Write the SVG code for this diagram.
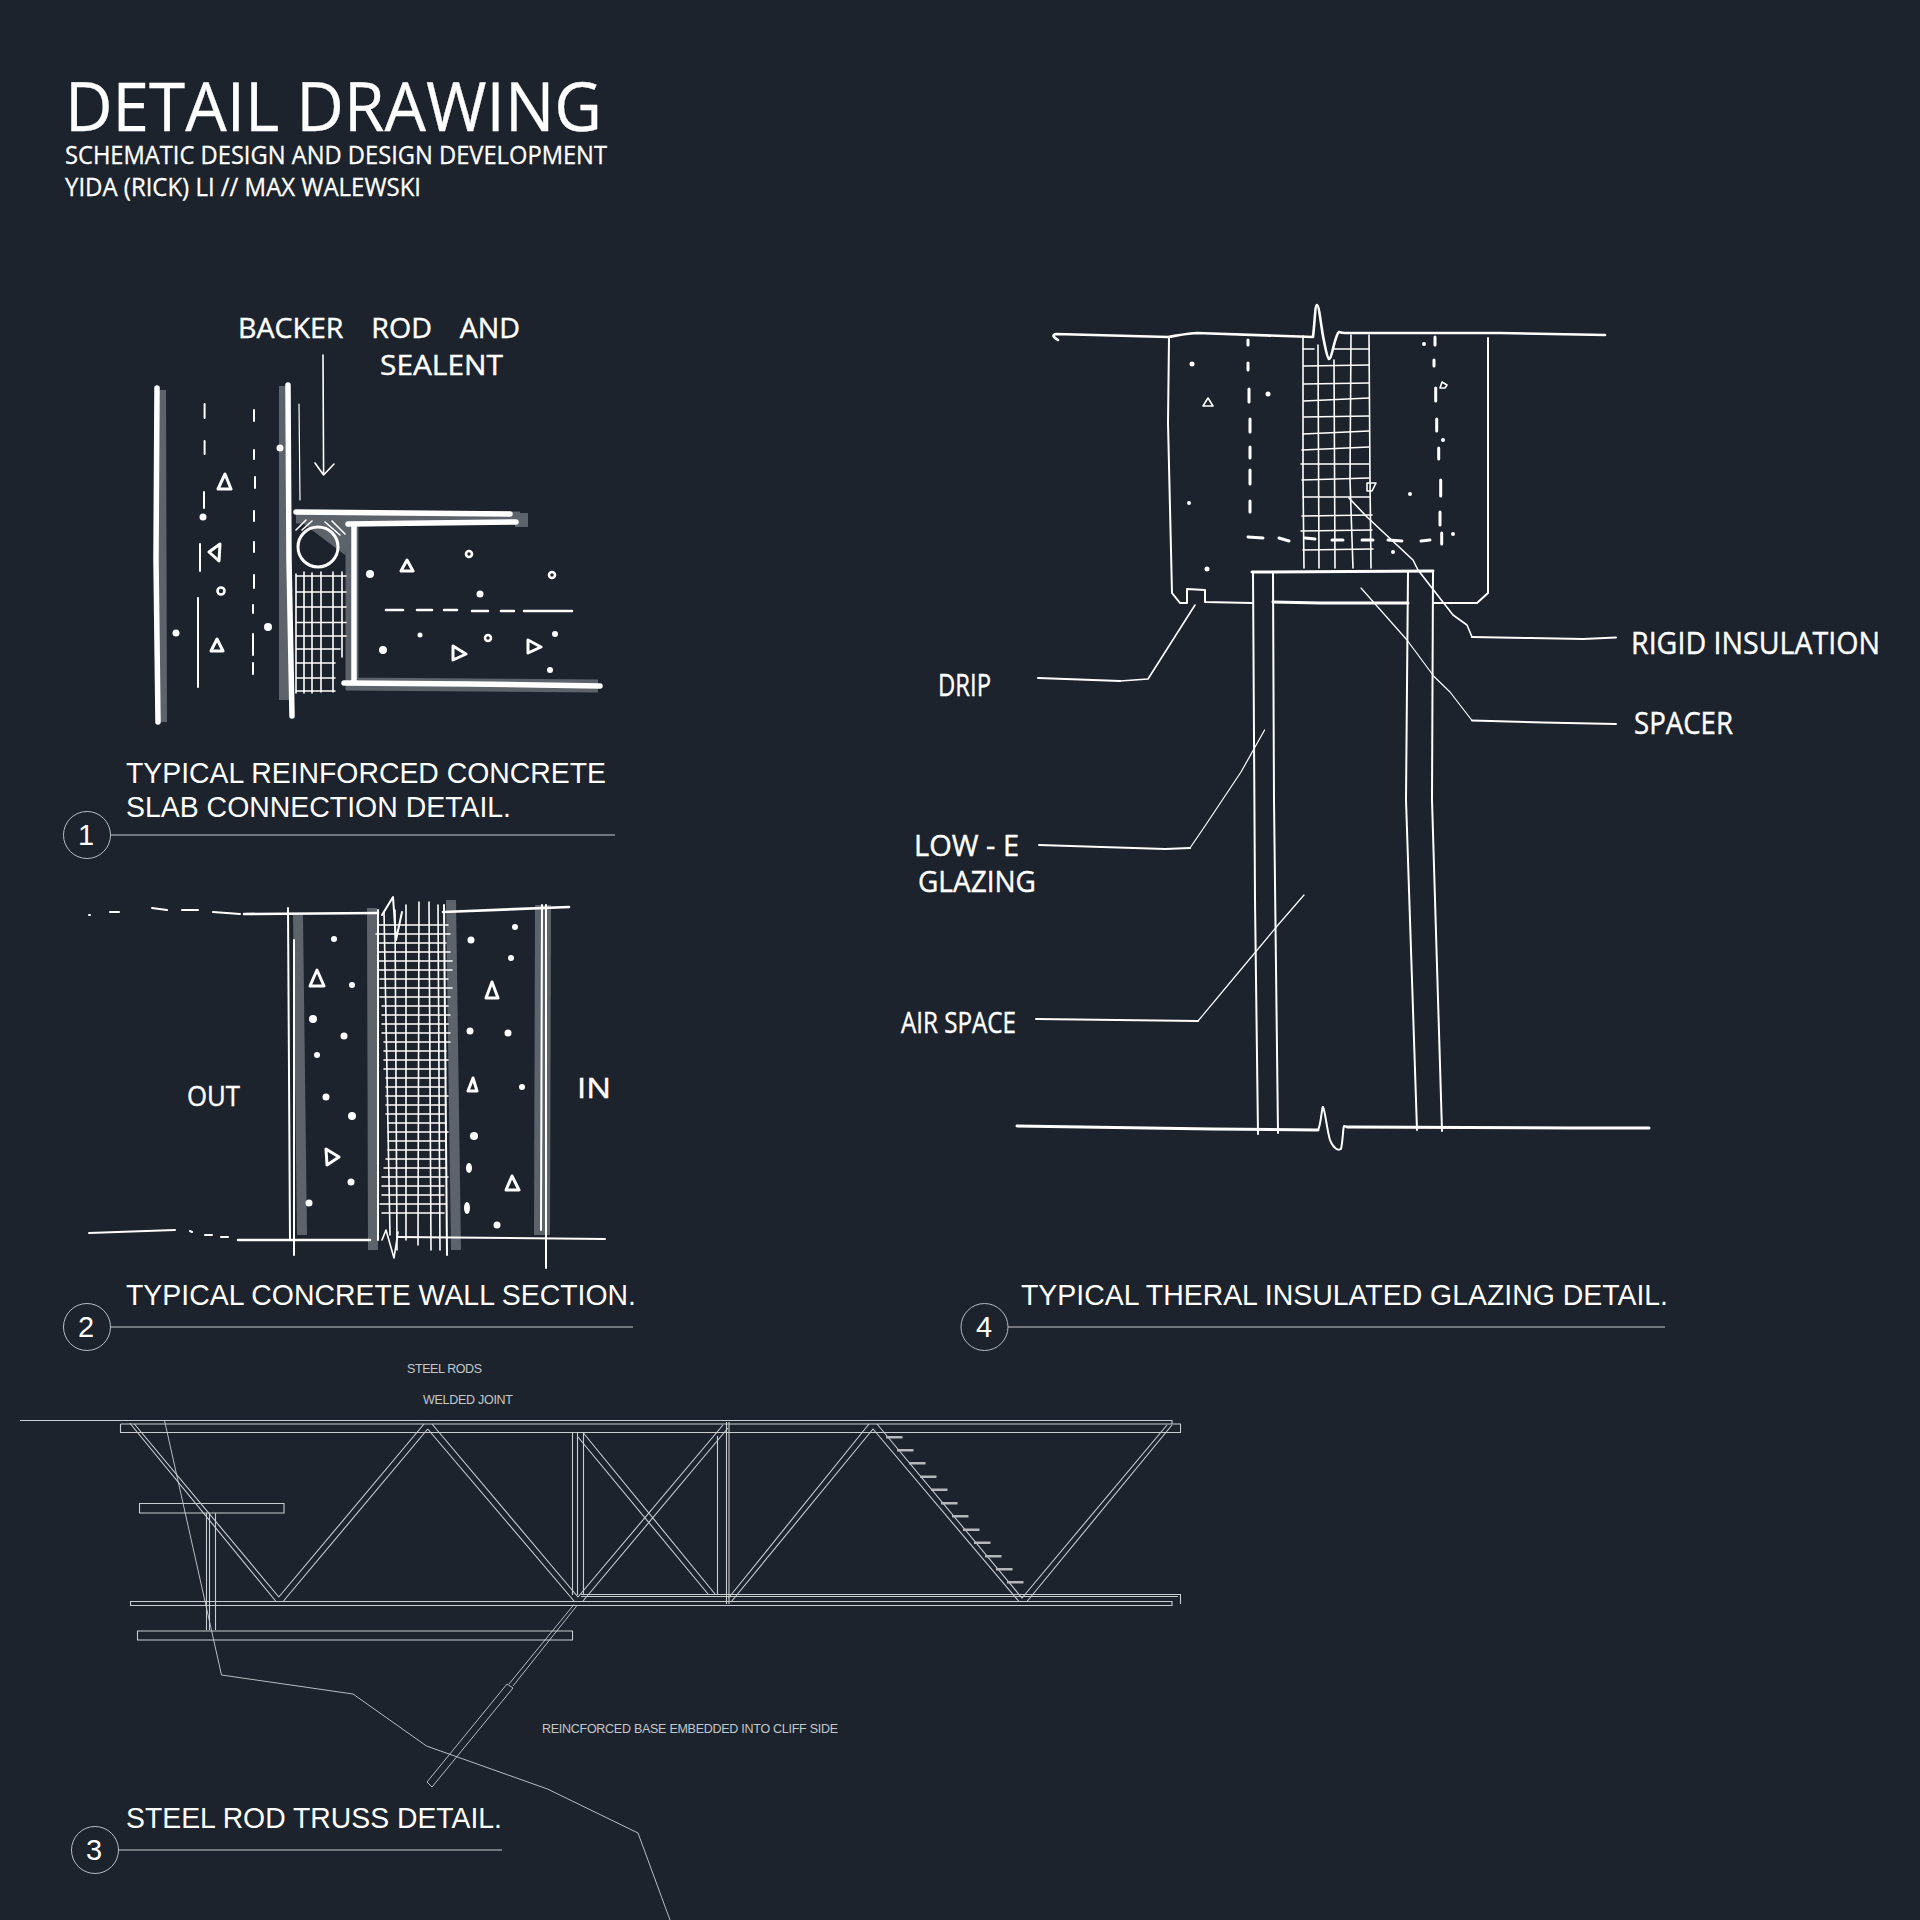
<svg xmlns="http://www.w3.org/2000/svg" width="1920" height="1920" viewBox="0 0 1920 1920">
<style>
.title{font-family:"Open Sans","Noto Sans",sans-serif;fill:#fff;stroke:#fff;stroke-width:.3}
.cap{font-family:"Liberation Sans",Arial,sans-serif;font-size:29px;fill:#fff}
.num{font-family:"Liberation Sans",Arial,sans-serif;font-size:29px;fill:#fff;text-anchor:middle}
.small{font-family:"Liberation Sans",Arial,sans-serif;font-size:12.5px;fill:#c4c8cc}
.hand{font-family:"Open Sans","Noto Sans",sans-serif;fill:#fff;stroke:#fff;stroke-width:.4}
.rule{stroke:#c8ccd0;stroke-width:1.1;fill:none}
.ring{stroke:#c8ccd0;stroke-width:.9;fill:none}
.cad{stroke:#c9cdd1;stroke-width:1.1;fill:none}
.cadt{stroke:#c9cdd1;stroke-width:.9;fill:none}
.w1{stroke:#fff;stroke-width:1.2;fill:none;stroke-linecap:round;stroke-linejoin:round}
.w15{stroke:#fff;stroke-width:1.6;fill:none;stroke-linecap:round;stroke-linejoin:round}
.w2{stroke:#fff;stroke-width:2;fill:none;stroke-linecap:round;stroke-linejoin:round}
.w25{stroke:#fff;stroke-width:2.6;fill:none;stroke-linecap:round;stroke-linejoin:round}
.w3{stroke:#fff;stroke-width:3;fill:none;stroke-linecap:round;stroke-linejoin:round}
.w5{stroke:#fff;stroke-width:5.500;fill:none;stroke-linecap:round;stroke-linejoin:round}
.wash{stroke:#5d636b;fill:none}
.dot{fill:#fff}
.lad{fill:#b4b8bc}
</style>
<rect width="1920" height="1920" fill="#1c232d"/>

<g id="title">
<text class="title" x="65" y="131" font-size="68" textLength="537" lengthAdjust="spacingAndGlyphs">DETAIL DRAWING</text>
<text class="title" x="65" y="164" font-size="25" textLength="542" lengthAdjust="spacingAndGlyphs">SCHEMATIC DESIGN AND DESIGN DEVELOPMENT</text>
<text class="title" x="65" y="196" font-size="25" textLength="356" lengthAdjust="spacingAndGlyphs">YIDA (RICK) LI // MAX WALEWSKI</text>
</g>

<g id="detail-1">
<path class="wash" stroke-width="10" d="M161 390L162 722M284 386L284 700"/>
<path class="wash" stroke-width="13" d="M296 517L520 518M352 525L352 690M346 684L598 686"/>
<path class="wash" stroke-width="14" d="M515 520L528 520"/>
<path d="M296 518L353 518L345 555Z" fill="#5d636b"/>
<path class="w5" d="M157 388L156 560L158 722M288 385L289 560L292 716M296 512L510 514M348 524L516 522M354 526L354 682M344 683L470 684L600 686"/>
<path class="w1" d="M299 404L300 500"/>
<path class="w15" d="M323 355L323.600 475M315 463L323.600 475L334 464"/>
<circle cx="318" cy="547" r="20" fill="none" stroke="#fff" stroke-width="3"/>
<path class="w15" d="M296 576H346M296 592H346M296 607H346M296 622.500H346M296 636H346M296 649H340M296 663H335M296 678H335M296 691H335M296 574V693M304 572V693M312 573V693M321 572V692M333 572V692M342 572V657"/>
<path class="w15" d="M296 530L306 520M302 530L312 521M325 522L340 535M332 521L345 534"/>
<path class="w2" d="M204.600 404V418M204.600 441V454M204 492V508M200 544V571M198 598V687"/>
<path class="w2" d="M254 410V421M254 450V459M255 477V488M254 511V521M254 542V552M254 575V588M253 605V613M253 634V655M253 663V674"/>
<path class="w25" d="M386 610H403M417 610H432M444 610H457M472 611H488M501 611H514M524 611H572"/>
<path class="w3" d="M218 489L225 474L231 489ZM209 552L220 544L219 561ZM211 651L217 639L223 651ZM401 571L407 560L413 571ZM453 646V660L466 654ZM528 640V653L541 647Z"/>
<g class="w25"><circle cx="221" cy="591" r="3.500"/><circle cx="469" cy="554" r="3"/><circle cx="552" cy="575" r="3"/><circle cx="488" cy="638" r="3"/></g>
<g class="dot"><circle cx="280" cy="448" r="3.500"/><circle cx="203" cy="517" r="3.500"/><circle cx="176" cy="633" r="3.500"/><circle cx="268" cy="627" r="4"/><circle cx="370" cy="574" r="4"/><circle cx="480" cy="594" r="3.500"/><circle cx="420" cy="635" r="2.500"/><circle cx="383" cy="650" r="4"/><circle cx="555" cy="634" r="3"/><circle cx="550" cy="670" r="3"/></g>
<text class="hand" x="238" y="338" font-size="28" textLength="282" lengthAdjust="spacingAndGlyphs" word-spacing="20">BACKER ROD AND</text>
<text class="hand" x="380" y="375" font-size="28" textLength="123" lengthAdjust="spacingAndGlyphs">SEALENT</text>
<text class="cap" x="126" y="783" textLength="480" lengthAdjust="spacingAndGlyphs">TYPICAL REINFORCED CONCRETE</text>
<text class="cap" x="126" y="817" textLength="385" lengthAdjust="spacingAndGlyphs">SLAB CONNECTION DETAIL.</text>
<circle class="ring" cx="87" cy="835" r="23.500"/>
<text class="num" x="86" y="845">1</text>
<path class="rule" d="M111 835H615"/>
</g>

<g id="detail-2">
<path class="wash" stroke-width="10" d="M298 915L302 1235M372 908L373 1250M451 900L456 1250"/>
<path class="wash" stroke-width="16" d="M543 905L542 1235"/>
<path class="w25" d="M244 914L378 913M443 912L569 907M238 1240L370 1240"/>
<path class="w2" d="M397 1237L605 1239M89 915h1M110 912h9M152 908l15 2M182 910h16M213 912l27 2M89 1233L175 1230M190 1231l2 1M205 1235h7M221 1237h7"/>
<path class="w2" d="M288 908L290 1240M294 940L294 1255M378 910L378 1240M444 905L447 1255M546 905L546 1268M542 905L541 1230"/>
<path class="w15" d="M378 925h70m-72 9h74m-72 9h68m-68 9h72m-72 9h74m-74 9h74m-72 9h68m-68 9h72m-72 9h70m-68 9h66m-66 9h68m-68 9h66m-66 9h68m-66 9h66m-66 9h62m-62 9h64m-64 9h62m-60 9h60m-60 9h58m-58 9h62m-62 9h60m-60 9h58m-56 9h58m-58 9h60m-60 9h58m-58 9h56m-58 9h60m-62 9h62m-64 9h66m-66 9h62m-62 9h62m-64 9h66m-64 9h62"/>
<path class="w15" d="M384 912L390 1235M395 910L397 1250M406 905L406 1240M419 902L418 1245M429 902L431 1250M438 905L440 1250"/>
<path class="w2" d="M382 915L393 897L396 940L402 912"/>
<path class="w15" d="M382 1240L386 1230L394 1258L398 1232"/>
<path class="w3" d="M310 986L317 970L324 986ZM326 1149L339 1157L327 1165ZM486 998L492 982L498 998ZM468 1091L473 1078L477 1091ZM506 1190L512 1176L519 1190Z"/>
<g class="dot"><circle cx="334" cy="939" r="3"/><circle cx="352" cy="985" r="3"/><circle cx="313" cy="1019" r="4"/><circle cx="344" cy="1036" r="3.500"/><circle cx="317" cy="1055" r="3"/><circle cx="326" cy="1097" r="3.500"/><circle cx="352" cy="1116" r="4"/><circle cx="351" cy="1182" r="3.500"/><circle cx="309" cy="1203" r="3.500"/><circle cx="515" cy="927" r="3"/><circle cx="471" cy="940" r="3.500"/><circle cx="511" cy="958" r="3"/><circle cx="470" cy="1031" r="3.500"/><circle cx="508" cy="1033" r="3.500"/><circle cx="522" cy="1087" r="3"/><circle cx="474" cy="1136" r="4"/><ellipse cx="469" cy="1168" rx="3" ry="5"/><ellipse cx="467" cy="1208" rx="3" ry="6"/><circle cx="497" cy="1225" r="3.500"/></g>
<text class="hand" x="187" y="1106" font-size="28" textLength="53" lengthAdjust="spacingAndGlyphs">OUT</text>
<text class="hand" x="577" y="1098" font-size="28" textLength="34" lengthAdjust="spacingAndGlyphs">IN</text>
<text class="cap" x="126" y="1305" textLength="510" lengthAdjust="spacingAndGlyphs">TYPICAL CONCRETE WALL SECTION.</text>
<circle class="ring" cx="87" cy="1327" r="23.500"/>
<text class="num" x="86" y="1337">2</text>
<path class="rule" d="M111 1327H633"/>
</g>

<g id="detail-3">
<text class="small" x="407" y="1373" textLength="75" lengthAdjust="spacing">STEEL RODS</text>
<text class="small" x="423" y="1404" textLength="90" lengthAdjust="spacing">WELDED JOINT</text>
<text class="small" x="542" y="1733" textLength="296" lengthAdjust="spacing">REINCFORCED BASE EMBEDDED INTO CLIFF SIDE</text>
<path class="cad" d="M20 1420.500H1172V1424M120.500 1424H1180.500V1432.500H1165M120.500 1424V1432.500H1165"/>
<path class="cad" d="M139.500 1503.500H284V1513H139.500ZM137.500 1631H572.500V1640H137.500ZM130.500 1601.500H1172V1605.500H130.500ZM581 1594.500H1180.500V1604M581 1596.500H1178"/>
<path class="cad" d="M206.500 1513V1630M209.500 1513V1630M215.500 1513V1630M572.500 1432.500V1595M577.500 1432.500V1595M583.500 1432.500V1595M717.500 1436V1594M726.500 1422V1604M729 1422V1604"/>
<path class="cad" d="M129.700 1423L275.600 1601M134.400 1424L278.800 1597L424 1424M427.700 1429L283.500 1601M427.700 1429L574 1601M432 1424L578 1597L723 1425M728 1428L583 1601"/>
<path class="cad" d="M583 1432.500L715 1594M578 1437L708 1594"/>
<path class="cad" d="M728.500 1598L869 1424M731 1602L873 1429L1019 1601.500M877 1424L1022 1598L1167 1425M1027 1601.500L1172 1425"/>
<path class="cadt" d="M574 1604.500L509 1684M577 1605.500L513 1686M507 1684L427 1782L432 1787L513 1688L507 1684"/>
<path class="cadt" d="M164.500 1420.500L221.500 1675L353 1694L426.500 1746L547.500 1789L638 1833L670 1920"/>
<g class="lad">
<rect x="886" y="1436" width="16.500" height="2.500"/><rect x="897" y="1449" width="16.500" height="2.500"/><rect x="909" y="1462" width="16.500" height="2.500"/><rect x="920" y="1475.500" width="16.500" height="2.500"/><rect x="931" y="1488.500" width="16.500" height="2.500"/><rect x="941" y="1502" width="16.500" height="2.500"/><rect x="952" y="1515" width="16.500" height="2.500"/><rect x="963" y="1528.500" width="16.500" height="2.500"/><rect x="974" y="1541.500" width="16.500" height="2.500"/><rect x="985" y="1555" width="16.500" height="2.500"/><rect x="996" y="1568" width="16.500" height="2.500"/><rect x="1007" y="1581" width="16.500" height="2.500"/>
</g>
<text class="cap" x="126" y="1828" textLength="376" lengthAdjust="spacingAndGlyphs">STEEL ROD TRUSS DETAIL.</text>
<circle class="ring" cx="95" cy="1850" r="23.500"/>
<text class="num" x="94" y="1860">3</text>
<path class="rule" d="M119 1850H502"/>
</g>

<g id="detail-4">
<path class="w25" d="M1058 340C1053 337 1052 335 1056 334L1168 337C1180 335 1190 333 1197 333L1313 337C1315 320 1315 305 1317 305C1319 305 1321 325 1323 336C1325 346 1327 358 1329 359C1332 359 1335 334 1339 332C1342 333 1342 333 1345 333L1500 333L1605 335"/>
<path class="w2" d="M1169 337L1168 423L1172 593L1180 603L1187 603L1187 589L1205 590L1205 602L1252 603M1488 338L1488 593L1477 603L1433 603"/>
<path class="w3" d="M1252 572L1433 571M1273 602L1320 603L1408 603"/>
<path class="w2" d="M1253 572L1255 900L1258 1134M1273 572L1274 800L1278 1133M1408 572L1406 800L1417 1130M1433 572L1432 800L1442 1131"/>
<path class="w3" d="M1017 1126L1212 1129L1318 1130M1347 1127L1570 1128L1649 1128"/>
<path class="w2" d="M1318 1130C1321 1125 1322 1105 1323 1107C1325 1110 1327 1130 1330 1140C1333 1148 1338 1151 1341 1149C1343 1140 1343 1128 1344 1126L1347 1127"/>
<path class="w15" d="M1303 336L1303 480L1304 568M1318 345L1319 568M1334 360L1335 568M1351 335L1350 480L1353 568M1369 335L1370 480L1371 568"/>
<path class="w15" d="M1303 349H1314M1333 349H1369M1304 366L1369 365M1304 384L1369 383M1304 401L1369 398M1304 417L1369 416M1303 434L1369 431M1302 450L1369 447M1301 464H1369M1302 480L1369 478M1303 497H1370M1302 516L1372 515M1301 531L1372 530M1303 550L1373 549"/>
<path class="w3" d="M1248 340V345M1248 363V370M1249 389V402M1250 419V432M1250 447V458M1250 470V484M1250 501V512M1248 537L1263 538M1279 538L1289 541M1305 538L1315 539M1332 540H1343M1362 540H1373M1388 540L1402 541M1421 541L1430 540"/>
<path class="w3" d="M1435 337V345M1434 360V366M1435.700 388V401M1436.700 419V431M1438.700 448V459M1440.700 480V496M1440 512V525M1441.700 533V544"/>
<path class="w15" d="M1203 406L1208 398L1213 406ZM1440 388L1442 382L1447 385L1445 388ZM1367 483L1376 483L1372 491L1367 491Z"/>
<g class="dot"><circle cx="1192" cy="364" r="2.500"/><circle cx="1189" cy="503" r="2"/><circle cx="1207" cy="569" r="2.500"/><circle cx="1268" cy="394" r="2.500"/><circle cx="1424" cy="344" r="2"/><circle cx="1410" cy="494" r="2"/><circle cx="1443" cy="440" r="2"/><circle cx="1453" cy="534" r="2"/><circle cx="1393" cy="552" r="2"/></g>
<text class="hand" x="1631" y="654" font-size="31" textLength="249" lengthAdjust="spacingAndGlyphs">RIGID INSULATION</text>
<text class="hand" x="1634" y="734" font-size="31" textLength="99" lengthAdjust="spacingAndGlyphs">SPACER</text>
<text class="hand" x="938" y="696" font-size="31" textLength="53" lengthAdjust="spacingAndGlyphs">DRIP</text>
<text class="hand" x="914" y="856" font-size="29" textLength="105" lengthAdjust="spacingAndGlyphs">LOW - E</text>
<text class="hand" x="918" y="892" font-size="29" textLength="118" lengthAdjust="spacingAndGlyphs">GLAZING</text>
<text class="hand" x="901" y="1033" font-size="29" textLength="115" lengthAdjust="spacingAndGlyphs">AIR SPACE</text>
<text class="cap" x="1021" y="1305" textLength="647" lengthAdjust="spacingAndGlyphs">TYPICAL THERAL INSULATED GLAZING DETAIL.</text>
<circle class="ring" cx="984.500" cy="1327" r="23.500"/>
<text class="num" x="984" y="1337">4</text>
<path class="rule" d="M1008 1327H1665"/>
</g>

<g id="connectors">
<path class="w15" d="M1195 605L1148 679L1120 681"/>
<path class="w2" d="M1120 681L1038 678"/>
<path class="w15" d="M1349 498L1367 517L1413 560L1418 570L1453 615L1467 625L1472 637"/>
<path class="w2" d="M1472 637L1530 638L1583 639L1616 637.500"/>
<path class="w1" d="M1361 588L1407 640L1434 676.500L1450 692L1472 720.500"/>
<path class="w2" d="M1472 720.500L1543 722.500L1616 724"/>
<path class="w1" d="M1264.600 730L1241 772L1205 826L1190 848"/>
<path class="w2" d="M1190 848L1165 849L1039 845"/>
<path class="w1" d="M1304 895L1278 925L1238 973L1198 1021"/>
<path class="w2" d="M1198 1021L1036 1019"/>
</g>
</svg>
